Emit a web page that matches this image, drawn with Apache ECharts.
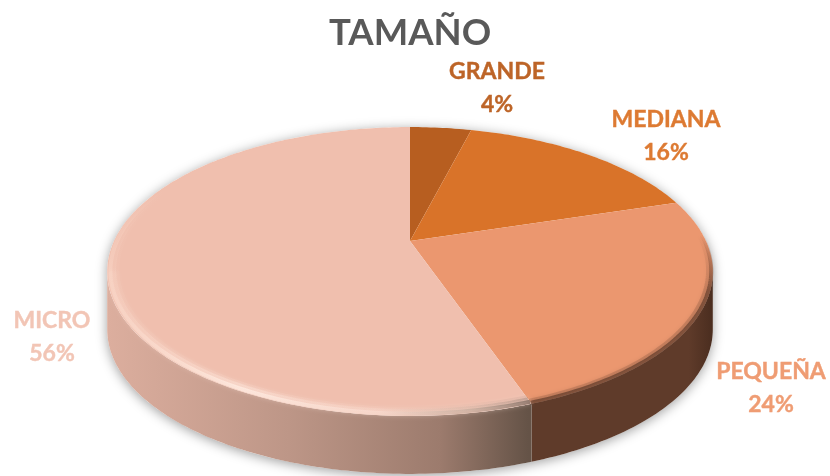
<!DOCTYPE html>
<html>
<head>
<meta charset="utf-8">
<style>html,body{margin:0;background:#fff}#main{width:830px;height:476px}</style>
<script src="https://cdn.jsdelivr.net/npm/echarts@6/dist/echarts.min.js"></script>
</head>
<body>
<div id="main"></div>
<script>
var categories = ['GRANDE', 'MEDIANA', 'PEQUEÑA', 'MICRO'];
var shares = [4, 16, 24, 56];
var sliceColors = ['#b75e20', '#d97329', '#eb976f', '#f0bfae'];
var labelColors = ['#bd6427', '#dd7a32', '#ef9c73', '#f2c5b5'];
// label centres, px
var labelPos = [[497, 88], [666, 136], [771, 388], [52, 337]];

var Chart = echarts.init(document.getElementById('main'));

// tilted disc, the same perspective as the old 3d pie
var cx = 410, cy = 241, R = 296, H = 138, k = 0.211, depth = 58;
var total = shares.reduce(function (a, b) { return a + b; }, 0);

function warp(deg) {
    return deg + 2.5 * (1 - Math.cos(deg * Math.PI / 180)) / 2;
}
function project(deg, r) {
    var t = deg * Math.PI / 180;
    var u = Math.sin(t) * r, v = Math.cos(t) * r, w = 1 + k * v;
    return [cx + R * u / w, cy - H * v / w];
}
function arc(from, to, r, drop) {
    var pts = [], n = Math.max(2, Math.ceil(Math.abs(to - from)));
    for (var i = 0; i <= n; i++) {
        var p = project(from + (to - from) * i / n, r);
        pts.push([p[0], p[1] + (drop || 0)]);
    }
    return pts;
}
function grad(stops) {
    return new echarts.graphic.LinearGradient(107, 0, 713, 0, stops, true);
}
function gradY(y0, y1, stops) {
    return new echarts.graphic.LinearGradient(0, y0, 0, y1, stops, true);
}

var silR = Math.acos(-k) * 180 / Math.PI, silL = 360 - silR;

// soft rim: rings going inward, each fainter than the last
function rim(children, from, to, stroke, glow, rings) {
    rings.forEach(function (ring) {
        children.push({
            type: 'polyline', z2: 3,
            shape: { points: arc(from, to, ring[0], 0) },
            style: {
                fill: null, lineWidth: 4, stroke: stroke, opacity: ring[1],
                shadowBlur: 5, shadowColor: glow
            }
        });
    });
}

function renderItem(params, api) {
    var i = params.dataIndex;
    var before = 0;
    for (var j = 0; j < i; j++) before += shares[j];
    var a = warp(before / total * 360);
    var b = warp((before + api.value(0)) / total * 360);
    var children = [];

    if (i === 0) {
        children.push({
            type: 'polygon', z2: 0,
            shape: { points: arc(silR, silL, 1, depth).concat(arc(silL, silR + 360, 1, 0)) },
            style: { fill: '#fff', shadowBlur: 12, shadowColor: 'rgba(0,0,0,0.38)', shadowOffsetY: 2 }
        });
    }

    // side wall, only the part facing the viewer
    var wa = Math.max(a, silR), wb = Math.min(b, silL);
    if (wb > wa) {
        var top = arc(wa, wb, 1, 0), bottom = arc(wb, wa, 1, depth);
        var fill = i === 3 ? grad([
            { offset: 0, color: '#dcae9e' },
            { offset: 0.3, color: '#bd9687' },
            { offset: 0.55, color: '#9c7b6d' },
            { offset: 0.695, color: '#655347' },
            { offset: 1, color: '#655347' }
        ]) : grad([
            { offset: 0, color: '#5f3b2a' },
            { offset: 0.96, color: '#5f3b2a' },
            { offset: 1, color: '#4a2d1f' }
        ]);
        children.push({
            type: 'polygon', z2: 1,
            shape: { points: top.concat(bottom) },
            style: { fill: fill }
        });
    }

    // top face
    children.push({
        type: 'polygon', z2: 2,
        shape: { points: [project(0, 0)].concat(arc(a, b, 1, 0)) },
        style: { fill: sliceColors[i] }
    });

    // bevel on the front rim
    if (i === 3) {
        var lightRings = [[0.99, 1], [0.978, 0.4], [0.968, 0.15]];
        rim(children, a, silL, grad([
            { offset: 0, color: 'rgba(250,215,200,0.6)' },
            { offset: 0.22, color: 'rgba(255,236,226,0.8)' },
            { offset: 0.45, color: 'rgba(248,218,206,0.7)' },
            { offset: 0.6, color: 'rgba(190,165,150,0.65)' },
            { offset: 0.695, color: 'rgba(120,100,90,0.75)' },
            { offset: 1, color: 'rgba(120,100,90,0.75)' }
        ]), 'rgba(255,235,225,0.5)', lightRings);
        rim(children, silL, 300, gradY(190, 275, [
            { offset: 0, color: 'rgba(250,215,200,0)' },
            { offset: 1, color: 'rgba(250,215,200,0.6)' }
        ]), 'rgba(255,235,225,0)', lightRings);
    }
    if (i === 2) {
        rim(children, 78, b, gradY(235, 290, [
            { offset: 0, color: 'rgba(95,59,42,0)' },
            { offset: 1, color: 'rgba(95,59,42,0.7)' }
        ]), 'rgba(95,59,42,0.3)', [[0.995, 1], [0.985, 0.3]]);
    }

    children.push({
        type: 'text', z2: 4,
        x: labelPos[i][0], y: labelPos[i][1],
        style: {
            text: categories[i] + '\n' + api.value(0) + '%',
            fill: labelColors[i], stroke: labelColors[i], lineWidth: 0.4,
            align: 'center', verticalAlign: 'middle',
            font: 'bold 23px Lato, sans-serif', lineHeight: 33
        }
    });
    return { type: 'group', children: children };
}

var option = {
    animation: false,
    backgroundColor: '#fff',
    title: {
        text: 'TAMAÑO',
        left: 324,
        top: 10,
        textStyle: { color: '#595959', fontSize: 36.5, fontWeight: 'bold', fontFamily: 'Lato' }
    },
    series: [{
        type: 'custom',
        coordinateSystem: 'none',
        renderItem: renderItem,
        data: shares.map(function (s, i) { return { name: categories[i], value: [s] }; })
    }]
};
Chart.setOption(option);
</script>
</body>
</html>
